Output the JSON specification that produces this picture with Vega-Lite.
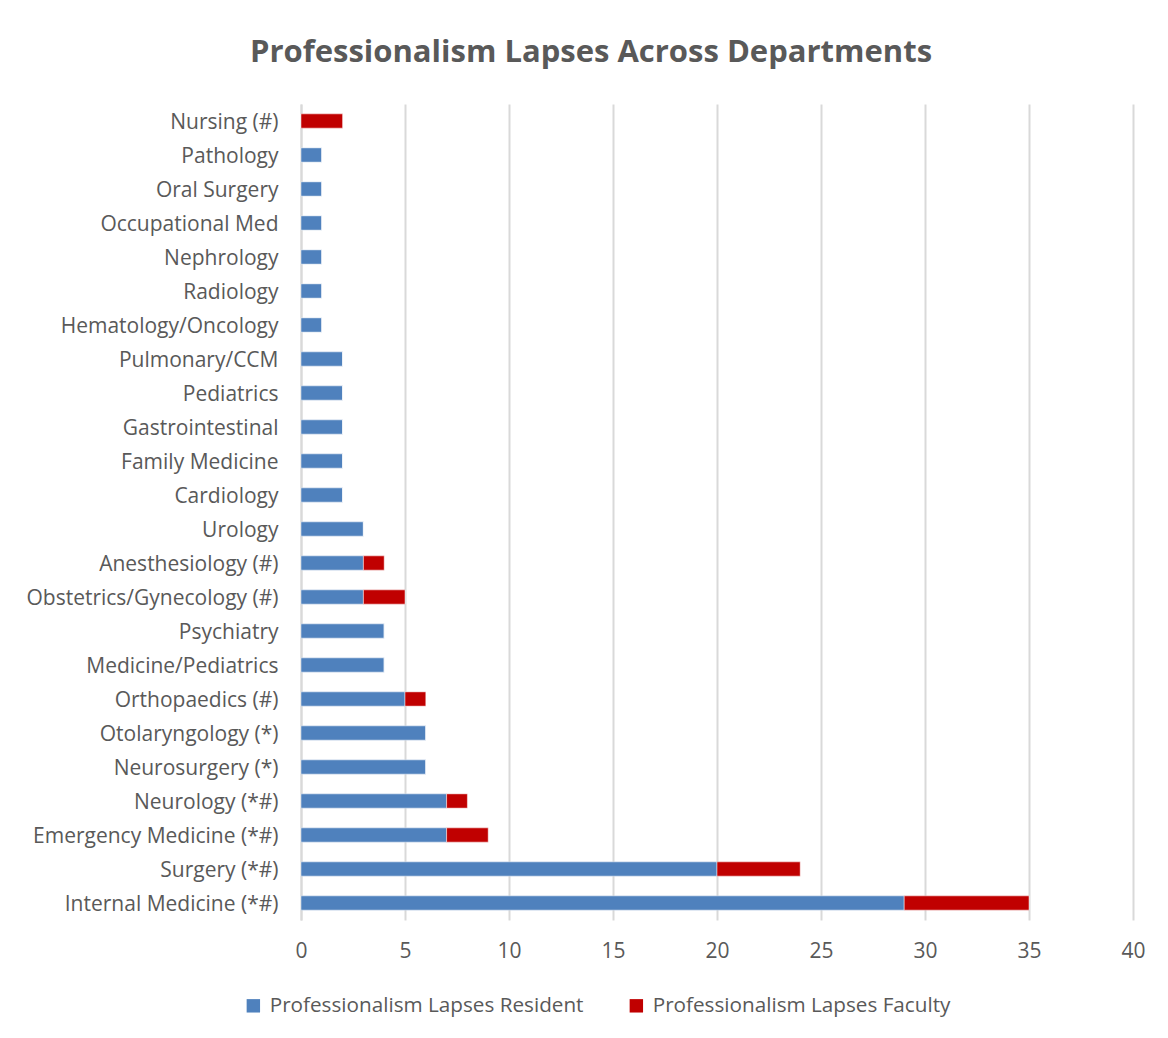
{
  "$schema": "https://vega.github.io/schema/vega-lite/v6.json",
  "autosize": "none",
  "padding": {"left": 301, "top": 104, "right": 35, "bottom": 118},
  "width": 832,
  "height": 816,
  "background": "white",
  "title": {
    "text": "Professionalism Lapses Across Departments",
    "font": "Open Sans",
    "fontSize": 31,
    "fontWeight": "bold",
    "color": "#595959",
    "anchor": "middle",
    "dx": -126,
    "offset": 35
  },
  "data": {
    "values": [
      {"dept": "Nursing (#)", "series": "Professionalism Lapses Resident", "value": 0},
      {"dept": "Nursing (#)", "series": "Professionalism Lapses Faculty", "value": 2},
      {"dept": "Pathology", "series": "Professionalism Lapses Resident", "value": 1},
      {"dept": "Pathology", "series": "Professionalism Lapses Faculty", "value": 0},
      {"dept": "Oral Surgery", "series": "Professionalism Lapses Resident", "value": 1},
      {"dept": "Oral Surgery", "series": "Professionalism Lapses Faculty", "value": 0},
      {"dept": "Occupational Med", "series": "Professionalism Lapses Resident", "value": 1},
      {"dept": "Occupational Med", "series": "Professionalism Lapses Faculty", "value": 0},
      {"dept": "Nephrology", "series": "Professionalism Lapses Resident", "value": 1},
      {"dept": "Nephrology", "series": "Professionalism Lapses Faculty", "value": 0},
      {"dept": "Radiology", "series": "Professionalism Lapses Resident", "value": 1},
      {"dept": "Radiology", "series": "Professionalism Lapses Faculty", "value": 0},
      {"dept": "Hematology/Oncology", "series": "Professionalism Lapses Resident", "value": 1},
      {"dept": "Hematology/Oncology", "series": "Professionalism Lapses Faculty", "value": 0},
      {"dept": "Pulmonary/CCM", "series": "Professionalism Lapses Resident", "value": 2},
      {"dept": "Pulmonary/CCM", "series": "Professionalism Lapses Faculty", "value": 0},
      {"dept": "Pediatrics", "series": "Professionalism Lapses Resident", "value": 2},
      {"dept": "Pediatrics", "series": "Professionalism Lapses Faculty", "value": 0},
      {"dept": "Gastrointestinal", "series": "Professionalism Lapses Resident", "value": 2},
      {"dept": "Gastrointestinal", "series": "Professionalism Lapses Faculty", "value": 0},
      {"dept": "Family Medicine", "series": "Professionalism Lapses Resident", "value": 2},
      {"dept": "Family Medicine", "series": "Professionalism Lapses Faculty", "value": 0},
      {"dept": "Cardiology", "series": "Professionalism Lapses Resident", "value": 2},
      {"dept": "Cardiology", "series": "Professionalism Lapses Faculty", "value": 0},
      {"dept": "Urology", "series": "Professionalism Lapses Resident", "value": 3},
      {"dept": "Urology", "series": "Professionalism Lapses Faculty", "value": 0},
      {"dept": "Anesthesiology (#)", "series": "Professionalism Lapses Resident", "value": 3},
      {"dept": "Anesthesiology (#)", "series": "Professionalism Lapses Faculty", "value": 1},
      {"dept": "Obstetrics/Gynecology (#)", "series": "Professionalism Lapses Resident", "value": 3},
      {"dept": "Obstetrics/Gynecology (#)", "series": "Professionalism Lapses Faculty", "value": 2},
      {"dept": "Psychiatry", "series": "Professionalism Lapses Resident", "value": 4},
      {"dept": "Psychiatry", "series": "Professionalism Lapses Faculty", "value": 0},
      {"dept": "Medicine/Pediatrics", "series": "Professionalism Lapses Resident", "value": 4},
      {"dept": "Medicine/Pediatrics", "series": "Professionalism Lapses Faculty", "value": 0},
      {"dept": "Orthopaedics (#)", "series": "Professionalism Lapses Resident", "value": 5},
      {"dept": "Orthopaedics (#)", "series": "Professionalism Lapses Faculty", "value": 1},
      {"dept": "Otolaryngology (*)", "series": "Professionalism Lapses Resident", "value": 6},
      {"dept": "Otolaryngology (*)", "series": "Professionalism Lapses Faculty", "value": 0},
      {"dept": "Neurosurgery (*)", "series": "Professionalism Lapses Resident", "value": 6},
      {"dept": "Neurosurgery (*)", "series": "Professionalism Lapses Faculty", "value": 0},
      {"dept": "Neurology (*#)", "series": "Professionalism Lapses Resident", "value": 7},
      {"dept": "Neurology (*#)", "series": "Professionalism Lapses Faculty", "value": 1},
      {"dept": "Emergency Medicine (*#)", "series": "Professionalism Lapses Resident", "value": 7},
      {"dept": "Emergency Medicine (*#)", "series": "Professionalism Lapses Faculty", "value": 2},
      {"dept": "Surgery (*#)", "series": "Professionalism Lapses Resident", "value": 20},
      {"dept": "Surgery (*#)", "series": "Professionalism Lapses Faculty", "value": 4},
      {"dept": "Internal Medicine (*#)", "series": "Professionalism Lapses Resident", "value": 29},
      {"dept": "Internal Medicine (*#)", "series": "Professionalism Lapses Faculty", "value": 6}
    ]
  },
  "mark": {"type": "bar", "stroke": "white", "strokeWidth": 0.8, "strokeOpacity": 0.6},
  "encoding": {
    "y": {
      "field": "dept",
      "type": "nominal",
      "sort": null,
      "scale": {"paddingInner": 0.58, "paddingOuter": 0.29},
      "axis": {
        "title": null,
        "ticks": false,
        "domain": true,
        "domainColor": "#d9d9d9",
        "domainWidth": 2,
        "labelFont": "Open Sans",
        "labelFontSize": 21,
        "labelColor": "#595959",
        "labelPadding": 23,
        "labelOffset": 1.5,
        "labelLimit": 400
      }
    },
    "x": {
      "field": "value",
      "type": "quantitative",
      "stack": "zero",
      "scale": {"domain": [0, 40], "nice": false},
      "axis": {
        "title": null,
        "values": [0, 5, 10, 15, 20, 25, 30, 35, 40],
        "grid": true,
        "gridColor": "#d9d9d9",
        "gridWidth": 2,
        "domain": false,
        "ticks": false,
        "labelFlush": false,
        "labelFont": "Open Sans",
        "labelFontSize": 21,
        "labelColor": "#595959",
        "labelPadding": 20
      }
    },
    "color": {
      "field": "series",
      "type": "nominal",
      "scale": {
        "domain": ["Professionalism Lapses Resident", "Professionalism Lapses Faculty"],
        "range": ["#4f81bd", "#c00000"]
      },
      "legend": {
        "title": null,
        "orient": "none",
        "direction": "horizontal",
        "legendX": -58,
        "legendY": 891,
        "symbolType": "square",
        "symbolSize": 180,
        "symbolStrokeWidth": 0,
        "labelFont": "Open Sans",
        "labelFontSize": 20.7,
        "labelColor": "#595959",
        "labelOffset": 6,
        "labelLimit": 400,
        "columnPadding": 42
      }
    },
    "order": {"field": "series", "sort": "descending"}
  },
  "config": {
    "view": {"stroke": null}
  }
}
